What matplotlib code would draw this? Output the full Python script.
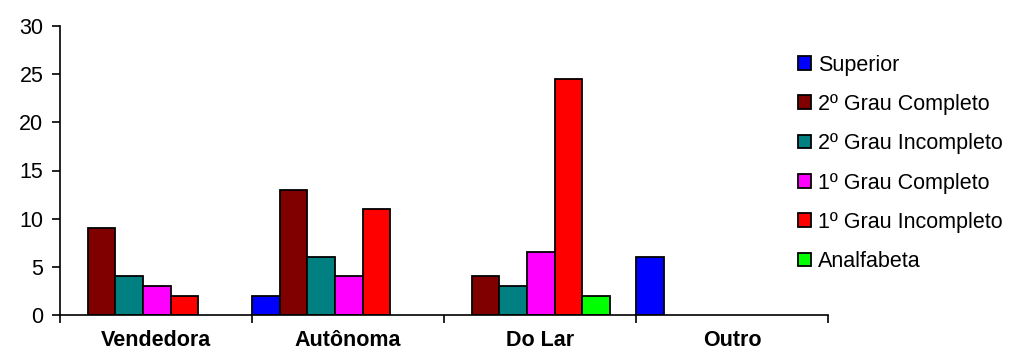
import matplotlib
matplotlib.use('Agg')
import matplotlib.pyplot as plt
import numpy as np

plt.rcParams['font.family'] = ['Liberation Sans', 'DejaVu Sans']

categories = ['Vendedora', 'Autônoma', 'Do Lar', 'Outro']
series_names = ['Superior', '2º Grau Completo', '2º Grau Incompleto',
                '1º Grau Completo', '1º Grau Incompleto', 'Analfabeta']
superior = [0, 2, 0, 6]
segundo_completo = [9, 13, 4, 0]
segundo_incompleto = [4, 6, 3, 0]
primeiro_completo = [3, 4, 6.5, 0]
primeiro_incompleto = [2, 11, 24.5, 0]
analfabeta = [0, 0, 2, 0]
colors = ['#0000ff', '#800000', '#008080', '#ff00ff', '#ff0000', '#00ff00']

values = [superior, segundo_completo, segundo_incompleto,
          primeiro_completo, primeiro_incompleto, analfabeta]

fig = plt.figure(figsize=(10.29, 3.56), dpi=100)
ax = fig.add_axes([60 / 1029, 41 / 356, 768 / 1029, 289 / 356])

bar_w = 0.144
x = np.arange(len(categories))
for i, (vals, c, name) in enumerate(zip(values, colors, series_names)):
    v = np.array(vals, dtype=float)
    mask = v > 0
    ax.bar(x[mask] + i * bar_w, v[mask], width=bar_w, align='edge',
           color=c, edgecolor='black', linewidth=1.3, label=name)

ax.set_xlim(0, len(categories))
ax.set_ylim(0, 30)
ax.set_yticks(range(0, 31, 5))
ax.tick_params(axis='y', labelsize=15.5, length=6, width=1.2, pad=6)
ax.set_xticks(range(len(categories) + 1))
ax.set_xticklabels([])
ax.tick_params(axis='x', length=6, width=1.2, direction='out')
ax.set_xticks(x + 0.5, minor=True)
ax.set_xticklabels(categories, minor=True, fontweight='bold', fontsize=15.5)
ax.tick_params(axis='x', which='minor', length=0, pad=11)

for side in ['top', 'right']:
    ax.spines[side].set_visible(False)
for side in ['left', 'bottom']:
    ax.spines[side].set_linewidth(1.2)

handles, labels = ax.get_legend_handles_labels()
order = [labels.index(n) for n in series_names]
fig.legend([handles[k] for k in order], [labels[k] for k in order],
           loc='upper left', bbox_to_anchor=(789 / 1029, 1 - 46 / 356),
           frameon=False, fontsize=15.5, handlelength=0.6, handleheight=0.6,
           handletextpad=0.35, labelspacing=0.85, borderaxespad=0)

fig.savefig('out.png', dpi=100)
